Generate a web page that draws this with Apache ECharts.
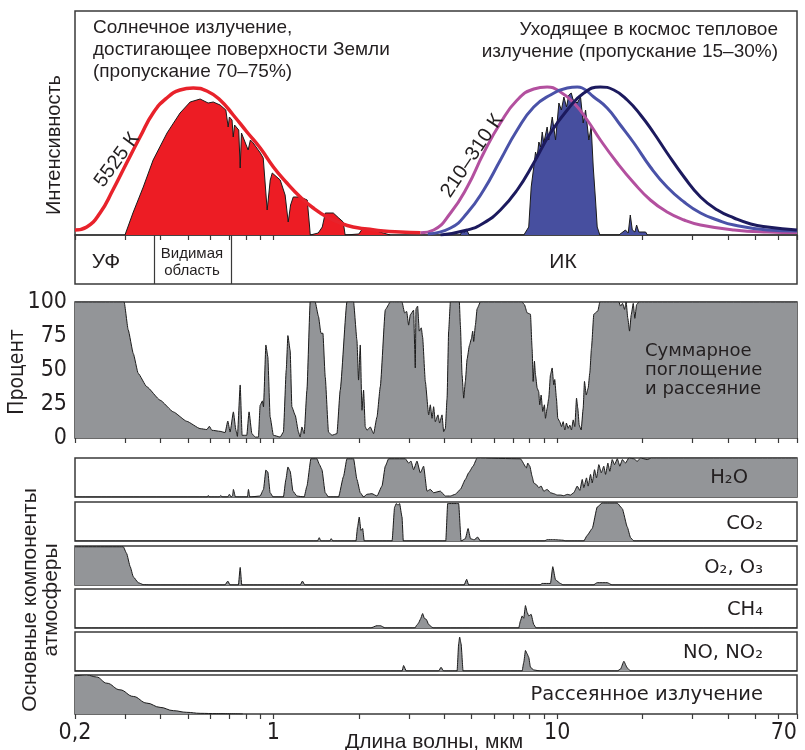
<!DOCTYPE html>
<html><head><meta charset="utf-8">
<script src="https://cdn.jsdelivr.net/npm/echarts@6/dist/echarts.min.js"></script>
<style>html,body{margin:0;padding:0;background:#fff}#c{width:805px;height:750px}</style>
</head><body><div id="c"></div>
<script>
// ---------- axis ticks / labels (wavelength, µm) ----------
const allTicks = [0.2,0.3,0.4,0.5,0.6,0.7,0.8,0.9,1,2,3,4,5,6,7,8,9,10,20,30,40,50,60,70];
const topTicks = [0.2,0.3,0.4,0.5,0.6,0.7,0.8,0.9,1,20,30,40,50,60,70];
const xLabelVals = [0.2,1,10,70];
const yPercentTicks = [0,25,50,75,100];
const bandEdges = [0.38,0.70];

// ---------- top panel: intensity (arbitrary units) [wavelength µm, intensity] ----------
const bb5525 = [[0.2,5],[0.22,8],[0.245,22],[0.272,45],[0.304,72],[0.339,98],[0.377,122],[0.421,137],[0.469,145],[0.522,147],[0.583,144],[0.649,135],[0.722,120],[0.807,103],[0.899,87],[1.0,68],[1.116,52],[1.244,38],[1.382,27],[1.545,18],[1.72,12],[1.91,8],[2.14,6],[2.44,4],[2.8,3],[3.3,2.3]];
const solarSurface = [[0.30,0],[0.32,22],[0.348,48],[0.377,75],[0.422,102],[0.469,122],[0.509,133],[0.552,136],[0.589,132],[0.614,133],[0.649,130],[0.68,125],[0.693,108],[0.70,118],[0.715,115],[0.722,98],[0.73,110],[0.755,105],[0.764,67],[0.772,102],[0.783,102],[0.815,85],[0.83,95],[0.849,92],[0.90,82],[0.921,77],[0.951,25],[0.975,55],[0.991,62],[1.057,55],[1.10,40],[1.128,13],[1.15,30],[1.175,38],[1.244,38],[1.316,35],[1.34,10],[1.349,0],[1.439,2],[1.487,8],[1.524,22],[1.626,22],[1.70,17],[1.763,13],[1.79,0],[2.0,1],[2.07,7],[2.25,5],[2.44,2],[2.58,0]];
const earthOutgoing = [[4.55,0],[4.63,4],[4.72,3],[4.8,5],[4.9,0],[7.63,0],[7.94,8],[8.10,48],[8.27,68],[8.39,83],[8.50,78],[8.62,93],[8.75,88],[8.86,103],[8.97,92],[9.22,108],[9.34,95],[9.61,118],[9.87,95],[10.14,132],[10.35,125],[10.56,138],[10.79,128],[10.99,140],[11.21,142],[11.39,135],[11.77,132],[12.09,138],[12.35,112],[12.59,125],[12.93,95],[13.18,108],[13.40,68],[13.65,35],[13.84,8],[14.14,0],[16.5,0],[16.7,2],[17.4,5],[17.8,2],[18.1,20],[18.4,5],[18.8,3],[19.05,10],[19.4,3],[20.5,3],[20.8,0]];
const bb310 = [[3.3,2.3],[3.67,5],[4.21,22],[4.82,48],[5.51,82],[6.31,112],[7.23,135],[8.27,146],[9.22,148],[10.27,143],[11.45,132],[12.76,115],[14.2,95],[16.29,72],[18.64,52],[21.3,35],[24.4,23],[28.0,15],[32.0,10],[42.0,5],[55.1,3],[70,2.5]];
const bb260 = [[3.5,1],[4.21,7],[4.82,22],[5.51,45],[6.31,75],[7.23,105],[8.27,128],[9.47,140],[10.85,147],[11.77,148],[12.26,147],[13.46,138],[15.0,127],[16.7,110],[18.64,92],[21.3,68],[24.4,48],[28.0,33],[32.0,22],[36.7,15],[42.0,10],[55.1,5],[70,4]];
const bb210 = [[3.88,0],[4.82,5],[5.51,12],[6.31,25],[7.23,45],[8.27,72],[9.47,102],[10.85,125],[12.42,142],[14.2,148],[15.84,145],[17.66,135],[19.68,120],[21.9,102],[24.4,82],[28.0,58],[32.0,38],[36.7,25],[42.0,17],[48.1,11],[55.1,8],[70,5]];

// ---------- total absorption & scattering, % ----------
const totalAbs = [[0.2,100],[0.298,100],[0.308,79.5],[0.321,62],[0.334,47.5],[0.358,37.7],[0.399,27.8],[0.444,19.2],[0.495,12.3],[0.552,6.9],[0.583,6.2],[0.595,8.6],[0.607,5.7],[0.649,4.9],[0.676,4],[0.691,12.5],[0.704,4.4],[0.723,19.2],[0.738,5.7],[0.747,1.2],[0.764,39],[0.776,2],[0.806,2],[0.821,19.2],[0.840,3.2],[0.863,0.7],[0.886,0.7],[0.898,24],[0.915,27.3],[0.923,22.9],[0.941,68.4],[0.956,59.8],[0.974,15.5],[1.0,2],[1.057,0.7],[1.085,4.4],[1.110,50],[1.125,75.3],[1.146,64.3],[1.162,22.9],[1.194,16.7],[1.226,4.4],[1.243,0.7],[1.260,8.1],[1.284,3.2],[1.313,35.2],[1.348,100],[1.404,100],[1.442,89.4],[1.471,77],[1.495,77],[1.523,45],[1.564,4.4],[1.608,2],[1.675,3.2],[1.720,35.2],[1.816,100],[1.917,100],[1.970,72],[1.996,42.6],[2.024,68.4],[2.052,20.4],[2.079,35.2],[2.108,8.1],[2.137,5.7],[2.195,8.1],[2.255,3.2],[2.318,15.5],[2.381,37.7],[2.480,94.3],[2.582,100],
  [2.84,100],[2.90,92],[2.95,93],[2.996,83],[3.038,90.6],[3.12,94],[3.163,51.5],[3.181,95],[3.223,97],[3.267,78.6],[3.321,81],[3.357,74],[3.431,41.6],[3.525,17],[3.573,24.4],[3.623,14.5],[3.670,23],[3.721,12],[3.802,17],[3.853,11],[3.929,17],[3.981,4.7],[4.036,7],[4.093,29.3],[4.146,78.6],[4.204,100],[4.522,100],[4.56,83],[4.623,46.5],[4.684,29.3],[4.748,41.6],[4.815,58],[4.906,68],[4.986,73],[5.04,78.6],[5.08,71],[5.151,83],[5.222,95],[5.364,100],
  [7.525,100],[7.668,98],[7.84,92],[8.053,91],[8.16,66],[8.23,41.6],[8.316,56.6],[8.386,46.5],[8.503,36.7],[8.61,34],[8.68,24.4],[8.78,31.6],[8.896,19.5],[9.02,24.4],[9.093,14.5],[9.221,21.9],[9.34,29.3],[9.471,46.5],[9.603,51.5],[9.728,39.1],[9.806,43],[9.94,29.3],[10.05,14.5],[10.21,12],[10.36,8.4],[10.50,12],[10.64,5.9],[10.78,11],[10.93,7.1],[11.08,9.5],[11.23,5.9],[11.39,13.3],[11.54,8.4],[11.70,29.3],[11.82,21.9],[11.96,9.5],[12.15,5.9],[12.35,21.9],[12.48,41.6],[12.66,31.6],[12.86,36.7],[13.03,47.8],[13.21,66],[13.46,91],[13.65,92],[13.91,93.5],[14.14,100],[16.50,100],[16.72,97],[17.0,99],[17.28,94.6],[17.5,100],[17.74,88],[17.99,78.6],[18.24,90.6],[18.54,99],[18.78,88],[19.05,98],[19.41,100],[70,100]];

// ---------- main atmospheric components, relative absorption % ----------
const h2o = [[0.2,0],[0.585,0],[0.59,4],[0.595,0],[0.645,0],[0.653,4],[0.66,0],[0.69,0],[0.70,7],[0.71,0],[0.718,3],[0.723,19.5],[0.735,0],[0.81,0],[0.817,19.5],[0.826,0],[0.898,2.5],[0.923,19.5],[0.941,69],[0.956,64],[0.974,11],[0.998,0],[1.085,0],[1.107,45],[1.125,77],[1.146,66],[1.172,15],[1.210,2.5],[1.284,0],[1.313,28],[1.356,98],[1.424,98],[1.454,83],[1.483,70],[1.523,11],[1.564,0],[1.697,0],[1.767,53],[1.816,98],[1.917,98],[1.970,45],[2.024,11],[2.079,0],[2.137,7],[2.226,8.5],[2.318,2.5],[2.414,28],[2.480,79],[2.547,98],[2.917,98],[2.996,87],[3.055,92],[3.120,70],[3.207,92],[3.294,62],[3.384,79],[3.478,15],[3.573,19.5],[3.670,11],[3.876,15],[4.036,2.5],[4.204,2.5],[4.378,7],[4.559,19.5],[4.748,45],[4.877,62],[5.054,79],[5.222,100],
  [7.422,98],[7.793,74.6],[7.877,87],[8.01,79],[8.16,53],[8.27,36],[8.44,32],[8.61,24],[8.78,28],[8.97,15],[9.22,19.5],[9.47,11],[9.73,8.5],[10.0,5],[10.27,5],[10.55,3.4],[10.85,6.8],[11.14,5],[11.44,11],[11.77,28],[12.02,17],[12.26,45],[12.41,24],[12.69,49],[12.86,28],[13.11,58],[13.29,36],[13.54,70],[13.76,49],[14.02,83],[14.30,62],[14.60,79],[14.81,58],[15.09,87],[15.33,66],[15.63,96],[15.93,83],[16.29,98],[16.63,79],[16.96,96],[17.41,87],[17.89,100],[18.63,98],[19.15,91.5],[19.67,100],[20.77,96],[21.5,100],[70,100]];
const co2 = [[0.2,0],[1.43,0],[1.451,8.5],[1.47,0],[1.58,0],[1.599,6],[1.62,0],[1.955,0],[1.98,36],[2.007,61.5],[2.035,27],[2.064,32],[2.09,0],[2.62,0],[2.674,87],[2.712,96],[2.749,91.5],[2.785,96],[2.84,61.5],[2.87,0],[4.05,0],[4.113,96],[4.497,96],[4.586,0],[4.748,6],[4.854,32],[4.95,6],[5.1,3],[5.247,10],[5.364,0],[9.0,0],[9.221,3.4],[9.728,3.4],[10.5,2],[10.7,0],[12.41,0],[12.76,14.5],[13.29,32],[13.84,87],[14.41,97.4],[16.28,97.4],[16.96,83],[17.66,36],[18.14,8.5],[18.64,0],[70,0]];
const o2o3 = [[0.2,98],[0.296,98],[0.304,81],[0.313,47],[0.321,21],[0.334,6],[0.348,1],[0.368,0],[0.675,0],[0.691,10],[0.704,0],[0.753,0],[0.764,45],[0.774,0],[1.243,0],[1.266,10],[1.291,0],[4.70,0],[4.80,14.5],[4.877,0],[8.7,0],[8.85,4],[9.471,4],[9.650,47],[9.87,13],[10.27,4],[10.5,0],[13.4,0],[13.84,6],[15.01,6],[15.63,0],[70,0]];
const ch4 = [[0.2,0],[2.20,0],[2.318,6],[2.381,6],[2.48,0],[3.15,0],[3.207,8],[3.249,13],[3.294,22],[3.357,37],[3.404,25],[3.459,22],[3.525,9],[3.623,2],[3.67,0],[7.321,0],[7.422,18],[7.525,31],[7.625,25],[7.731,57.5],[7.840,40],[7.940,31],[8.097,35],[8.27,9],[8.432,0],[70,0]];
const noNo2 = [[0.2,0],[2.84,0],[2.877,14],[2.94,0],[3.82,0],[3.898,9.5],[3.98,0],[4.44,0],[4.497,70],[4.533,87],[4.586,70],[4.66,0],[7.525,0],[7.625,22],[7.731,52.6],[7.84,44],[7.94,35],[8.053,9.5],[8.27,2.6],[8.733,0],[16.29,0],[16.72,5],[17.18,25],[17.66,8],[18.14,0],[70,0]];
const scattering = [[0.2,98],[0.22,100],[0.238,95],[0.259,79],[0.288,62],[0.321,45],[0.358,28],[0.399,17],[0.444,8.6],[0.495,4.3],[0.552,1.7],[0.632,0.9],[0.78,0]];

// ---------- chart ----------
const LMIN = Math.log10(0.2), LMAX = Math.log10(70);
const lg = a => a.map(p => [Math.log10(p[0]), p[1]]);
const TXT = '#231f20', BORDER = '#3a3a3a', GRAY = '#939598';
const NARROW = '"Liberation Sans Narrow","DejaVu Sans Condensed",sans-serif';
const SANS = '"Liberation Sans",Arial,sans-serif';
const DJ = '"DejaVu Sans",sans-serif';

const gridDefs = [
  {top: 11, height: 224}, {top: 235, height: 49}, {top: 302, height: 136},
  {top: 458, height: 39}, {top: 502, height: 39}, {top: 546, height: 39},
  {top: 589, height: 39}, {top: 632, height: 39}, {top: 675, height: 39}
];
const grid = gridDefs.map(g => Object.assign({left: 75, right: 8, show: true, borderColor: BORDER, borderWidth: 1.5,
  backgroundColor: 'rgba(0,0,0,0)', containLabel: false, outerBoundsMode: 'none'}, g));

const fmt = v => { const w = Math.pow(10, v); return Math.abs(w - 0.2) < 0.01 ? '0,2' : String(Math.round(w)); };
const xAxis = grid.map((g, i) => {
  const ticks = i === 0 ? topTicks : (i === 2 || i === 8) ? allTicks : null;
  return {
    gridIndex: i, type: 'value', min: LMIN, max: LMAX,
    axisLine: {show: false}, splitLine: {show: false},
    axisTick: ticks ? {show: true, inside: false, length: 5, customValues: ticks.map(Math.log10), lineStyle: {color: BORDER, width: 1.2}} : {show: false},
    axisLabel: i === 8 ? {show: true, customValues: xLabelVals.map(Math.log10), formatter: fmt, fontFamily: NARROW, fontSize: 23, color: TXT, margin: 8, alignMaxLabel: 'right'} : {show: false}
  };
});
const yAxis = grid.map((g, i) => {
  if (i === 2) return {gridIndex: i, type: 'value', min: 0, max: 100, interval: 25,
    axisLine: {show: false}, axisTick: {show: false}, splitLine: {show: false},
    axisLabel: {show: true, fontFamily: NARROW, fontSize: 23, color: TXT, margin: 8}};
  return {gridIndex: i, type: 'value', min: 0, max: i === 0 ? 224 : 100, show: false, splitLine: {show: false}};
});

const areaSeries = (gi, data, fill, smooth) => ({
  type: 'line', xAxisIndex: gi, yAxisIndex: gi, data: lg(data), symbol: 'none', smooth: smooth || false,
  smoothMonotone: 'x', lineStyle: {color: '#1a1a1a', width: 1}, areaStyle: {color: fill, opacity: 1}, silent: true, animation: false
});
const curve = (data, color, w) => ({
  type: 'line', xAxisIndex: 0, yAxisIndex: 0, data: lg(data), symbol: 'none', smooth: 0.5,
  lineStyle: {color: color, width: w}, silent: true, animation: false, z: 3
});

const series = [
  areaSeries(0, solarSurface, '#ed1c24'),
  areaSeries(0, earthOutgoing, '#474f9f'),
  curve(bb5525, '#e8222b', 3.5),
  curve(bb310, '#b3509f', 3),
  curve(bb260, '#4a52a8', 3),
  curve(bb210, '#1c1a5e', 3),
  {type: 'line', xAxisIndex: 1, yAxisIndex: 1, data: [], symbol: 'none', animation: false,
   markLine: {silent: true, symbol: 'none', animation: false, label: {show: false},
     lineStyle: {color: BORDER, width: 1.2, type: 'solid'}, data: bandEdges.map(b => ({xAxis: Math.log10(b)}))}},
  areaSeries(2, totalAbs, GRAY, 0.15),
  areaSeries(3, h2o, GRAY, 0.15),
  areaSeries(4, co2, GRAY, 0.15),
  areaSeries(5, o2o3, GRAY, 0.15),
  areaSeries(6, ch4, GRAY, 0.15),
  areaSeries(7, noNo2, GRAY, 0.15),
  areaSeries(8, scattering, GRAY, 0.4)
];

const T = (text, x, y, o) => Object.assign({type: 'text', x: x, y: y, silent: true, z: 100,
  style: Object.assign({text: text, fill: TXT, font: '19px ' + SANS, align: 'left', verticalAlign: 'middle',
    textAlign: 'left', textVerticalAlign: 'middle'}, (o && o.style) || {})}, o ? {rotation: o.rotation || 0} : {});
const C = (al) => ({align: al, textAlign: al});
const deg = d => d * Math.PI / 180;

const graphic = [
  T('Солнечное излучение,', 93, 28),
  T('достигающее поверхности Земли', 93, 50),
  T('(пропускание 70–75%)', 93, 72),
  T('Уходящее в космос тепловое', 778, 30, {style: C('right')}),
  T('излучение (пропускание 15–30%)', 778, 52, {style: C('right')}),
  T('5525 К', 117, 160, {rotation: deg(54), style: Object.assign(C('center'), {font: '20px ' + SANS})}),
  T('210–310 К', 472, 156, {rotation: deg(56), style: Object.assign(C('center'), {font: '20px ' + SANS})}),
  T('Интенсивность', 54, 145, {rotation: deg(90), style: Object.assign(C('center'), {font: '20px ' + SANS})}),
  T('УФ', 106, 262, {style: Object.assign(C('center'), {font: '21px ' + SANS})}),
  T('Видимая', 192, 254, {style: Object.assign(C('center'), {font: '15px ' + SANS})}),
  T('область', 192, 271, {style: Object.assign(C('center'), {font: '15px ' + SANS})}),
  T('ИК', 563, 262, {style: Object.assign(C('center'), {font: '21px ' + SANS})}),
  T('Процент', 18, 372, {rotation: deg(90), style: Object.assign(C('center'), {font: '21px ' + NARROW})}),
  T('Суммарное', 645, 351, {style: {font: '18px ' + DJ}}),
  T('поглощение', 645, 370, {style: {font: '18px ' + DJ}}),
  T('и рассеяние', 645, 389, {style: {font: '18px ' + DJ}}),
  T('H₂O', 748, 478, {style: Object.assign(C('right'), {font: '19.5px ' + DJ})}),
  T('CO₂', 763, 524, {style: Object.assign(C('right'), {font: '19.5px ' + DJ})}),
  T('O₂, O₃', 763, 568, {style: Object.assign(C('right'), {font: '19.5px ' + DJ})}),
  T('CH₄', 763, 610, {style: Object.assign(C('right'), {font: '19.5px ' + DJ})}),
  T('NO, NO₂', 763, 653, {style: Object.assign(C('right'), {font: '19.5px ' + DJ})}),
  T('Рассеянное излучение', 763, 695, {style: Object.assign(C('right'), {font: '19.5px ' + DJ})}),
  T('Основные компоненты', 30, 600, {rotation: deg(90), style: Object.assign(C('center'), {font: '21px ' + SANS})}),
  T('атмосферы', 51, 600, {rotation: deg(90), style: Object.assign(C('center'), {font: '21px ' + SANS})}),
  T('Длина волны, мкм', 434, 742, {style: Object.assign(C('center'), {font: '21px ' + SANS})})
];

const chart = echarts.init(document.getElementById('c'), null, {renderer: 'canvas'});
chart.setOption({animation: false, backgroundColor: '#fff', grid, xAxis, yAxis, series, graphic});
</script></body></html>
